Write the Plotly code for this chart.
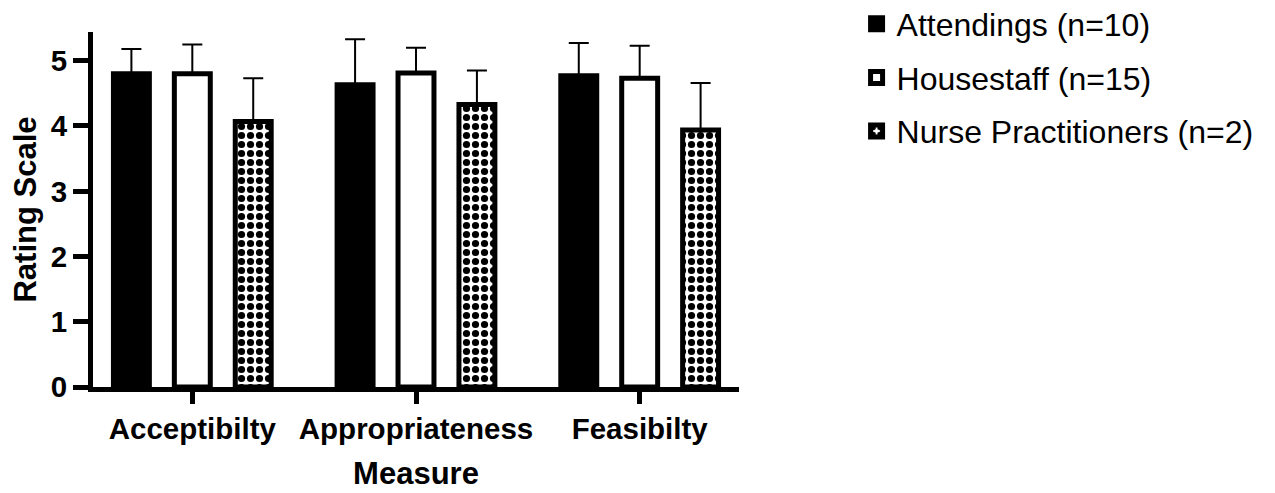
import plotly.graph_objects as go

categories = ["Acceptibilty", "Appropriateness", "Feasibilty"]
series_names = ["Attendings (n=10)", "Housestaff (n=15)", "Nurse Practitioners (n=2)"]
attendings = [4.80, 4.63, 4.77]
attendings_err = [0.38, 0.70, 0.50]
housestaff = [4.80, 4.81, 4.73]
housestaff_err = [0.45, 0.39, 0.50]
nurse_pract = [4.07, 4.33, 3.94]
nurse_pract_err = [0.66, 0.52, 0.72]
y_ticks = [0, 1, 2, 3, 4, 5]

FONT = "Liberation Sans, Arial, sans-serif"

def err(vals):
    return dict(type="data", symmetric=False, array=vals, arrayminus=[0] * len(vals),
                color="black", thickness=2, width=10)

fig = go.Figure()
fig.add_trace(go.Bar(
    name=series_names[0], x=categories, y=attendings, error_y=err(attendings_err),
    marker=dict(color="black", line=dict(color="black", width=5)),
    legendgroup="a",
))
fig.add_trace(go.Bar(
    name=series_names[1], x=categories, y=housestaff, error_y=err(housestaff_err),
    marker=dict(color="white", line=dict(color="black", width=5)),
    legendgroup="b",
))
fig.add_trace(go.Bar(
    name=series_names[2], x=categories, y=nurse_pract, error_y=err(nurse_pract_err),
    marker=dict(color="white", line=dict(color="black", width=5),
                pattern=dict(shape=".", fgcolor="black", bgcolor="white", size=9,
                             solidity=0.5, fillmode="replace")),
    legendgroup="c",
))

fig.update_layout(
    width=1275, height=493,
    margin=dict(l=84.5, r=543.5, t=24, b=114, autoexpand=False),
    paper_bgcolor="white", plot_bgcolor="white",
    barmode="group", bargap=0.183, bargroupgap=0.41,
    font=dict(family=FONT, color="black"),
    showlegend=True,
    legend=dict(
        x=1.182, xanchor="left", y=1.10, yanchor="top",
        font=dict(family=FONT, size=32, color="black"),
        traceorder="grouped", tracegroupgap=9,
        bgcolor="rgba(0,0,0,0)",
    ),
    xaxis=dict(
        range=[-0.444, 2.444],
        showline=True, linecolor="black", linewidth=5,
        ticks="outside", ticklen=12, tickwidth=5, tickcolor="black",
        tickfont=dict(family=FONT, size=29.5, color="black", weight="bold"),
        title=dict(text="Measure", font=dict(family=FONT, size=31, color="black", weight="bold"),
                   standoff=19),
        showgrid=False, zeroline=False,
    ),
    yaxis=dict(
        range=[0, 5.44],
        tickvals=y_ticks,
        showline=True, linecolor="black", linewidth=5,
        ticks="outside", ticklen=15, tickwidth=5, tickcolor="black",
        tickfont=dict(family=FONT, size=29.5, color="black", weight="bold"),
        title=dict(text="Rating Scale", font=dict(family=FONT, size=31, color="black", weight="bold"),
                   standoff=13),
        showgrid=False, zeroline=False,
    ),
)

fig.write_html("out.html")
